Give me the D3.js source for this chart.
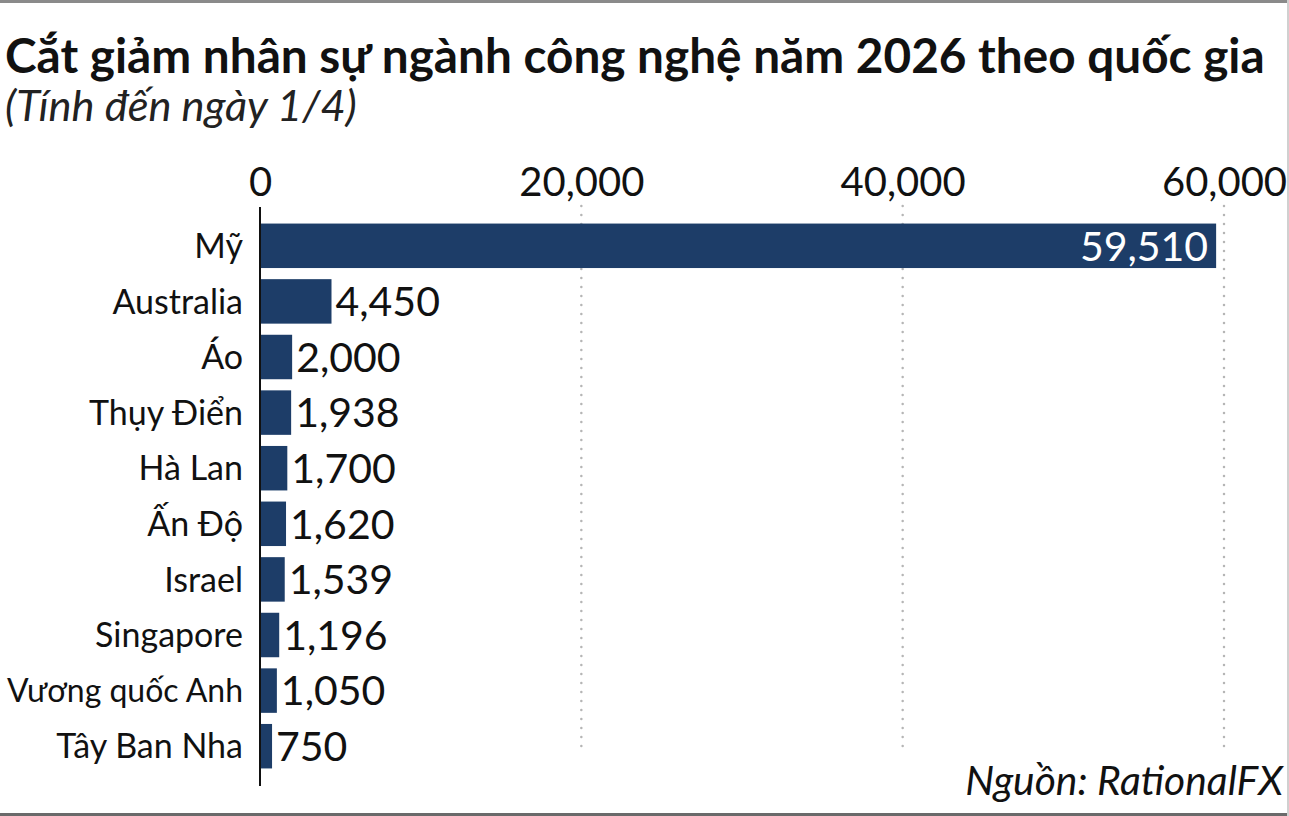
<!DOCTYPE html>
<html><head><meta charset="utf-8">
<script src="https://cdn.jsdelivr.net/npm/d3@7"></script>
<style>body{margin:0;background:#fff}svg{display:block}</style>
</head><body>
<script>
const categories = ["Mỹ","Australia","Áo","Thụy Điển","Hà Lan","Ấn Độ","Israel","Singapore","Vương quốc Anh","Tây Ban Nha"];
const values = [59510,4450,2000,1938,1700,1620,1539,1196,1050,750];
const tickValues = [0,20000,40000,60000];
const title = "Cắt giảm nhân sự ngành công nghệ năm 2026 theo quốc gia";
const subtitle = "(Tính đến ngày 1/4)";
const source = "Nguồn: RationalFX";

const W = 1289, H = 816;
const font = "Lato, 'Open Sans', sans-serif";
const svg = d3.select("body").append("svg").attr("width", W).attr("height", H);
svg.append("rect").attr("width", W).attr("height", H).attr("fill", "#fff");

// frame
svg.append("rect").attr("x",0).attr("y",0).attr("width",W).attr("height",3).attr("fill","#8a8a8a");
svg.append("rect").attr("x",0).attr("y",H-3).attr("width",W).attr("height",3).attr("fill","#6a6a6a");
svg.append("rect").attr("x",W-2).attr("y",0).attr("width",2).attr("height",H).attr("fill","#d0d0d0");

function fit(sel, base, width){
  const l = sel.node().getComputedTextLength();
  sel.attr("font-size", base*width/l);
}

const t = svg.append("text").attr("x",5).attr("y",73).attr("font-family",font).attr("font-weight",700)
  .attr("font-size",38).attr("fill","#111").text(title);
fit(t,38,1260);

const st = svg.append("text").attr("x",5).attr("y",121).attr("font-family",font).attr("font-style","italic")
  .attr("font-size",33).attr("fill","#222").text(subtitle);
fit(st,33,352);

const x = d3.scaleLinear().domain([0,60000]).range([260,1224]);
const y = d3.scaleBand().domain(categories).range([218,774]).paddingInner(0.2).paddingOuter(0.1);

// gridlines
svg.append("g").selectAll("line").data(tickValues.filter(d=>d>0)).join("line")
  .attr("x1",d=>x(d)).attr("x2",d=>x(d)).attr("y1",206).attr("y2",748)
  .attr("stroke","#b5b5b5").attr("stroke-width",2.5).attr("stroke-linecap","round")
  .attr("stroke-dasharray","0,9");

// top axis
const axis = svg.append("g").attr("transform","translate(0,196)")
  .call(d3.axisTop(x).tickValues(tickValues).tickFormat(d3.format(",")).tickSize(0).tickPadding(0));
axis.select(".domain").remove();
axis.selectAll("text").attr("font-family",font).attr("font-size",40).attr("fill","#111");

// bars
svg.append("g").selectAll("rect").data(values).join("rect")
  .attr("x",x(0)).attr("y",(d,i)=>y(categories[i])).attr("width",d=>x(d)-x(0)).attr("height",y.bandwidth())
  .attr("fill","#1d3d68");

// vertical axis line
svg.append("line").attr("x1",x(0)).attr("x2",x(0)).attr("y1",207).attr("y2",786).attr("stroke","#111").attr("stroke-width",2);

// category labels
svg.append("g").selectAll("text").data(categories).join("text")
  .attr("x",243).attr("y",d=>y(d)+y.bandwidth()/2).attr("dy","0.36em").attr("text-anchor","end")
  .attr("font-family",font).attr("font-size",34).attr("fill","#111").text(d=>d)
  .each(function(){
    const l = this.getComputedTextLength();
    if (l > 236) d3.select(this).attr("font-size", 34*236/l);
  });

// value labels
const fmt = d3.format(",");
svg.append("g").selectAll("text").data(values).join("text")
  .attr("x",(d,i)=> i===0 ? x(d)-8 : x(d)+4)
  .attr("y",(d,i)=>y(categories[i])+y.bandwidth()/2).attr("dy","0.36em")
  .attr("text-anchor",(d,i)=> i===0 ? "end" : "start")
  .attr("font-family",font).attr("font-size",41).attr("fill",(d,i)=> i===0 ? "#fff" : "#111").text(d=>fmt(d));

// source
const src = svg.append("text").attr("x",1283).attr("y",795).attr("text-anchor","end").attr("font-family",font)
  .attr("font-style","italic").attr("font-size",32).attr("fill","#111").text(source);
fit(src,32,318);
</script>
</body></html>
